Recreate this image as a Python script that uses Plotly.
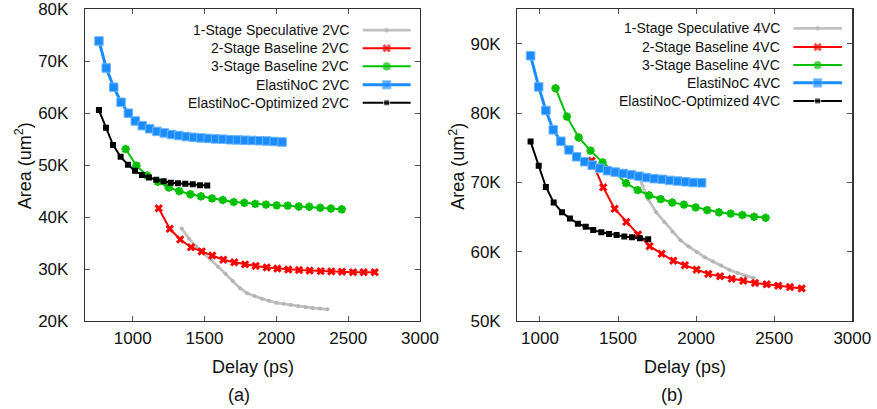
import plotly.graph_objects as go

# ---------------- data (delay in ps, area in um^2) ----------------
series_names_2vc = ["1-Stage Speculative 2VC", "2-Stage Baseline 2VC", "3-Stage Baseline 2VC",
                    "ElastiNoC 2VC", "ElastiNoC-Optimized 2VC"]
series_names_4vc = ["1-Stage Speculative 4VC", "2-Stage Baseline 4VC", "3-Stage Baseline 4VC",
                    "ElastiNoC 4VC", "ElastiNoC-Optimized 4VC"]

spec2_x = [1341, 1392, 1443, 1493, 1544, 1595, 1645, 1696, 1747, 1797, 1848, 1899, 1949, 2000, 2051,
           2101, 2152, 2203, 2253, 2304, 2355]
spec2_y = [37800, 35850, 34350, 33100, 31900, 30450, 29100, 27700, 26300, 25350, 24800, 24300, 23900,
           23500, 23300, 23100, 22850, 22650, 22500, 22400, 22250]

base2s_2_x = [1181, 1258, 1331, 1406, 1480, 1554, 1631, 1707, 1782, 1856, 1933, 2007, 2083, 2158, 2232,
              2309, 2383, 2457, 2534, 2608, 2685]
base2s_2_y = [41700, 37750, 35700, 34200, 33400, 32600, 31800, 31300, 30900, 30600, 30300, 30100, 29900,
              29800, 29700, 29600, 29550, 29500, 29400, 29400, 29400]

base3s_2_x = [951, 1026, 1100, 1175, 1251, 1324, 1401, 1475, 1552, 1627, 1703, 1777, 1853, 1928, 2002,
              2079, 2156, 2229, 2306, 2380, 2455]
base3s_2_y = [53100, 49900, 48000, 46800, 45700, 45000, 44400, 44000, 43600, 43300, 42900, 42750, 42550,
              42400, 42250, 42200, 42050, 42000, 41800, 41650, 41500]

elasti2_x = [765, 816, 868, 919, 970, 1018, 1067, 1118, 1169, 1220, 1271, 1322, 1373, 1424, 1475, 1526,
             1577, 1628, 1679, 1730, 1781, 1832, 1883, 1934, 1985, 2040]
elasti2_y = [73900, 68700, 65000, 62100, 60000, 58500, 57600, 57000, 56500, 56200, 55900, 55700, 55500,
             55350, 55250, 55150, 55050, 55000, 54900, 54850, 54800, 54750, 54700, 54650, 54550, 54450]

opt2_x = [765, 814, 863, 916, 967, 1016, 1065, 1113, 1164, 1216, 1265, 1315, 1366, 1418, 1469, 1519]
opt2_y = [60600, 57200, 53900, 51600, 50100, 48900, 48100, 47600, 47200, 46900, 46600, 46500, 46400,
          46300, 46150, 46100]

spec4_x = [1640, 1692, 1744, 1796, 1848, 1900, 1952, 2004, 2056, 2108, 2160, 2212, 2264, 2316, 2368]
spec4_y = [70500, 67600, 65700, 64300, 62900, 61650, 60750, 59950, 59200, 58600, 58000, 57400, 56950,
           56550, 56200]

base2s_4_x = [1331, 1405, 1478, 1553, 1628, 1702, 1779, 1854, 1928, 2003, 2078, 2153, 2228, 2302, 2377,
              2452, 2526, 2601, 2676]
base2s_4_y = [73150, 69300, 66200, 64300, 62500, 60800, 59700, 58700, 58050, 57400, 56800, 56450, 56100,
              55800, 55500, 55300, 55100, 54900, 54700]

base3s_4_x = [1100, 1173, 1248, 1324, 1401, 1476, 1551, 1626, 1698, 1773, 1847, 1922, 1997, 2071, 2146,
              2221, 2296, 2371, 2445]
base3s_4_y = [83600, 79500, 76500, 74600, 72900, 71500, 69900, 68900, 68150, 67600, 67100, 66800, 66400,
              66000, 65700, 65500, 65300, 65050, 64900]

elasti4_x = [940, 992, 1038, 1085, 1134, 1186, 1235, 1286, 1335, 1384, 1433, 1482, 1533, 1585, 1634, 1683,
             1732, 1783, 1832, 1882, 1933, 1982, 2035]
elasti4_y = [88300, 83800, 80400, 77600, 75950, 74700, 73700, 73000, 72500, 72050, 71700, 71500, 71300,
             71100, 70900, 70700, 70550, 70450, 70300, 70200, 70100, 70000, 69950]

opt4_x = [940, 992, 1038, 1088, 1141, 1192, 1243, 1293, 1341, 1393, 1442, 1491, 1540, 1589, 1640, 1693]
opt4_y = [75900, 72400, 69350, 67100, 65700, 64800, 64050, 63600, 63150, 62800, 62550, 62400, 62200,
          62100, 61950, 61800]

x_tickvals = [1000, 1500, 2000, 2500, 3000]
x_ticktext = ["1000", "1500", "2000", "2500", "3000"]
y_tickvals_a = [20000, 30000, 40000, 50000, 60000, 70000, 80000]
y_ticktext_a = ["20K", "30K", "40K", "50K", "60K", "70K", "80K"]
y_tickvals_b = [50000, 60000, 70000, 80000, 90000]
y_ticktext_b = ["50K", "60K", "70K", "80K", "90K"]

# ---------------- styles ----------------
FONT = "Arial, 'Liberation Sans', sans-serif"
styles = [
    dict(line=dict(color="#c0c0c0", width=2.8),
         marker=dict(symbol="circle", size=4, color="#b4b4b4")),
    dict(line=dict(color="#ff0000", width=2),
         marker=dict(symbol="x", size=7.5, color="#ff0000", line=dict(width=0))),
    dict(line=dict(color="#00c000", width=2),
         marker=dict(symbol="asterisk-open", size=7, color="#00c000", line=dict(width=2.4, color="#00c000"))),
    dict(line=dict(color="#1a8cff", width=3),
         marker=dict(symbol="square", size=8.5, color="#1a8cff", line=dict(width=1, color="#6bb5ff"))),
    dict(line=dict(color="#000000", width=2),
         marker=dict(symbol="square", size=6, color="#000000")),
]

fig = go.Figure()

left_series = [(spec2_x, spec2_y), (base2s_2_x, base2s_2_y), (base3s_2_x, base3s_2_y),
               (elasti2_x, elasti2_y), (opt2_x, opt2_y)]
right_series = [(spec4_x, spec4_y), (base2s_4_x, base2s_4_y), (base3s_4_x, base3s_4_y),
                (elasti4_x, elasti4_y), (opt4_x, opt4_y)]

for (xs, ys), name, st in zip(left_series, series_names_2vc, styles):
    fig.add_trace(go.Scatter(x=xs, y=ys, name=name, mode="lines+markers", xaxis="x", yaxis="y",
                             showlegend=False, line=st["line"], marker=st["marker"]))
for (xs, ys), name, st in zip(right_series, series_names_4vc, styles):
    fig.add_trace(go.Scatter(x=xs, y=ys, name=name, mode="lines+markers", xaxis="x2", yaxis="y2",
                             showlegend=False, line=st["line"], marker=st["marker"]))

# ---------------- gnuplot-like key (text left of sample) ----------------
W, H = 877, 409
dom_a = [85 / W, 420 / W]
dom_b = [517.3 / W, 852.3 / W]
dom_y = [1 - 321 / H, 1 - 9.3 / H]

def add_key(names, xa, ya, text_right, line_x0, line_x1, rows):
    for name, st, ry in zip(names, styles, rows):
        mk = dict(st["marker"])
        mk["size"] = [0, st["marker"]["size"], 0]
        fig.add_trace(go.Scatter(x=[line_x0, (line_x0 + line_x1) / 2, line_x1], y=[ry] * 3,
                                 mode="lines+markers", xaxis=xa, yaxis=ya, showlegend=False,
                                 hoverinfo="skip", line=st["line"], marker=mk))
        fig.add_annotation(x=text_right, y=ry, xref=xa, yref=ya, text=name, showarrow=False,
                           xanchor="right", yanchor="middle", font=dict(family=FONT, size=14, color="#111"))

add_key(series_names_2vc, "x3", "y3", 0.793, 0.829, 0.972, [0.933, 0.875, 0.817, 0.758, 0.700])
add_key(series_names_4vc, "x4", "y4", 0.789, 0.824, 0.969, [0.939, 0.879, 0.821, 0.764, 0.706])

axis_common = dict(showline=True, linecolor="#333", linewidth=1.2, mirror="ticks", ticks="inside",
                   ticklen=5, tickcolor="#555", tickwidth=1, showgrid=False, zeroline=False,
                   automargin=False, tickfont=dict(family=FONT, size=17, color="#111"))
hid = dict(visible=False, range=[0, 1], fixedrange=True, automargin=False)

fig.update_layout(
    width=W, height=H, margin=dict(l=0, r=0, t=0, b=0, autoexpand=False),
    paper_bgcolor="white", plot_bgcolor="rgba(0,0,0,0)", showlegend=False,
    xaxis=dict(domain=dom_a, range=[668, 3000], tickvals=x_tickvals, ticktext=x_ticktext,
               anchor="y", ticklabelstandoff=1, **axis_common),
    yaxis=dict(domain=dom_y, range=[20000, 80000], tickvals=y_tickvals_a, ticktext=y_ticktext_a,
               anchor="x", ticklabelstandoff=12, **axis_common),
    xaxis2=dict(domain=dom_b, range=[855, 3000], tickvals=x_tickvals, ticktext=x_ticktext,
                anchor="y2", ticklabelstandoff=1, **axis_common),
    yaxis2=dict(domain=dom_y, range=[50000, 95000], tickvals=y_tickvals_b, ticktext=y_ticktext_b,
                anchor="x2", ticklabelstandoff=12, **axis_common),
    xaxis3=dict(overlaying="x", anchor="y3", **hid),
    yaxis3=dict(overlaying="y", anchor="x3", **hid),
    xaxis4=dict(overlaying="x2", anchor="y4", **hid),
    yaxis4=dict(overlaying="y2", anchor="x4", **hid),
)

title_font = dict(family=FONT, size=18, color="#111")
for xc, lab in [((85 + 420) / 2 / W, "(a)"), ((517.3 + 852.3) / 2 / W, "(b)")]:
    fig.add_annotation(x=xc, y=1 - 366.7 / H, xref="paper", yref="paper", text="Delay (ps)",
                       showarrow=False, xanchor="center", yanchor="middle", font=title_font)
    fig.add_annotation(x=xc - 13 / W, y=1 - 395 / H, xref="paper", yref="paper", text=lab,
                       showarrow=False, xanchor="center", yanchor="middle", font=title_font)
for xc in [23.3 / W, 456.7 / W]:
    fig.add_annotation(x=xc, y=1 - 166 / H, xref="paper", yref="paper", text="Area (um<sup>2</sup>)",
                       textangle=-90, showarrow=False, xanchor="center", yanchor="middle",
                       font=title_font)

fig.write_html("out.html", config={"displayModeBar": False, "staticPlot": True},
               post_script="document.body.style.margin='0';document.body.style.overflow='hidden';")
